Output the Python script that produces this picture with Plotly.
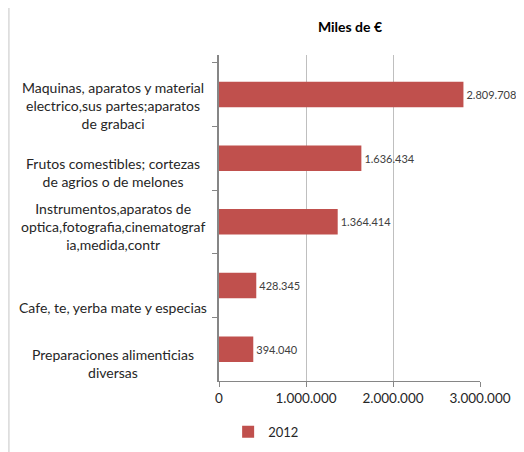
import plotly.graph_objects as go

categories = [
    "Maquinas, aparatos y material<br>electrico,sus partes;aparatos<br>de grabaci",
    "Frutos comestibles; cortezas<br>de agrios o de melones",
    "Instrumentos,aparatos de<br>optica,fotografia,cinematograf<br>ia,medida,contr",
    "Cafe, te, yerba mate y especias",
    "Preparaciones alimenticias<br>diversas",
]
values_2012 = [2809708, 1636434, 1364414, 428345, 394040]
x_ticks = [0, 1000000, 2000000, 3000000]

# Excel places the category text a little below each bar
label_shift_px = [-11, -14, -5, -22, -14]

FONT = "Lato, 'Open Sans', sans-serif"
BAR = "#C0504D"

fig = go.Figure()
fig.add_trace(
    go.Bar(
        y=categories,
        x=values_2012,
        orientation="h",
        name="2012",
        marker={"color": BAR, "line": {"width": 0}},
        texttemplate="%{x:,}",
        textposition="outside",
        cliponaxis=False,
        textfont={"size": 11, "color": "#404040"},
    )
)

annotations = [
    {
        "text": cat,
        "xref": "paper",
        "yref": "y",
        "x": -0.406,
        "y": cat,
        "xanchor": "center",
        "yanchor": "middle",
        "align": "center",
        "yshift": shift,
        "showarrow": False,
        "font": {"size": 14, "color": "#262626"},
    }
    for cat, shift in zip(categories, label_shift_px)
]

# the page body has an 8px margin, so the figure is 8px smaller than the window
fig.update_layout(
    width=516,
    height=444,
    margin={"l": 211, "r": 44, "t": 47, "b": 71, "autoexpand": False},
    paper_bgcolor="white",
    plot_bgcolor="white",
    separators=",.",
    font={"family": FONT, "size": 14, "color": "#262626"},
    title={
        "text": "<b>Miles de €</b>",
        "x": 342 / 516,
        "xanchor": "center",
        "y": 1 - 19 / 444,
        "yanchor": "middle",
        "font": {"size": 14, "color": "#000000"},
    },
    bargap=0.6,
    showlegend=True,
    legend={
        "orientation": "h",
        "x": 0.035,
        "xanchor": "left",
        "y": -0.156,
        "yanchor": "middle",
        "font": {"size": 13},
    },
    annotations=annotations,
    shapes=[
        {
            "type": "line",
            "xref": "paper",
            "yref": "paper",
            "x0": -0.805,
            "x1": -0.805,
            "y0": 1.2,
            "y1": -0.25,
            "line": {"color": "#d9d9d9", "width": 1.5},
        }
    ],
)
fig.update_xaxes(
    range=[0, 3000000],
    tickvals=x_ticks,
    tickformat=",",
    showgrid=True,
    gridcolor="#bfbfbf",
    gridwidth=1,
    showline=True,
    linecolor="#868686",
    ticks="outside",
    tickcolor="#868686",
    ticklen=5,
    zeroline=False,
    automargin=False,
    tickfont={"size": 13.5},
)
fig.update_yaxes(
    autorange="reversed",
    showline=True,
    linecolor="#868686",
    linewidth=1.5,
    ticks="outside",
    tickson="boundaries",
    tickcolor="#868686",
    ticklen=5,
    showgrid=False,
    showticklabels=False,
    automargin=False,
)

fig.write_html("out.html")
